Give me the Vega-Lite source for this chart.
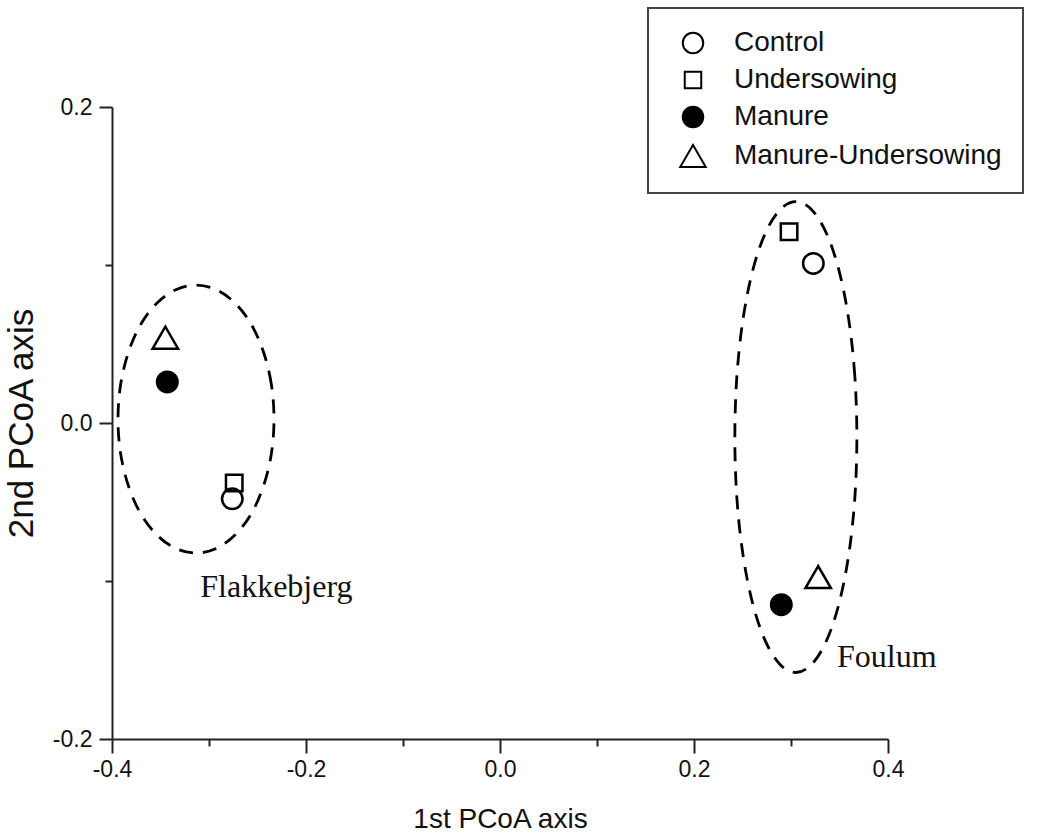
{
  "$schema": "https://vega.github.io/schema/vega-lite/v6.json",
  "width": 776,
  "height": 632,
  "autosize": {"type": "none"},
  "padding": {"left": 112, "top": 107, "right": 150, "bottom": 95},
  "background": "white",
  "config": {
    "view": {"stroke": null},
    "axis": {
      "grid": false,
      "domainColor": "#222",
      "domainWidth": 2,
      "tickColor": "#222",
      "tickWidth": 2,
      "labelFont": "Liberation Sans",
      "labelFontSize": 23,
      "labelColor": "#111",
      "labelFlush": false,
      "labelOverlap": false,
      "titleFont": "Liberation Sans",
      "titleFontWeight": "normal",
      "titleColor": "#111"
    },
    "legend": {
      "strokeColor": "#444",
      "strokeWidth": 2,
      "fillColor": "white",
      "title": null,
      "orient": "none",
      "legendX": 536,
      "legendY": -99,
      "padding": 21,
      "rowPadding": 8,
      "labelFont": "Liberation Sans",
      "labelFontSize": 28,
      "labelColor": "#111",
      "labelLimit": 400,
      "symbolStrokeWidth": 2,
      "symbolOffset": 10,
      "labelOffset": 27
    }
  },
  "datasets": {
    "points": [
      {"site": "Flakkebjerg", "treatment": "Control", "pc1": -0.276, "pc2": -0.048},
      {"site": "Flakkebjerg", "treatment": "Undersowing", "pc1": -0.274, "pc2": -0.038},
      {"site": "Flakkebjerg", "treatment": "Manure", "pc1": -0.343, "pc2": 0.026},
      {"site": "Flakkebjerg", "treatment": "Manure-Undersowing", "pc1": -0.345, "pc2": 0.054},
      {"site": "Foulum", "treatment": "Control", "pc1": 0.323, "pc2": 0.101},
      {"site": "Foulum", "treatment": "Undersowing", "pc1": 0.298, "pc2": 0.121},
      {"site": "Foulum", "treatment": "Manure", "pc1": 0.29, "pc2": -0.115},
      {"site": "Foulum", "treatment": "Manure-Undersowing", "pc1": 0.328, "pc2": -0.0975}
    ],
    "ellipses": [
      {"site": "Flakkebjerg", "i": 0, "pc1": -0.2330, "pc2": 0.0025},
      {"site": "Flakkebjerg", "i": 1, "pc1": -0.2357, "pc2": 0.0244},
      {"site": "Flakkebjerg", "i": 2, "pc1": -0.2438, "pc2": 0.0449},
      {"site": "Flakkebjerg", "i": 3, "pc1": -0.2565, "pc2": 0.0625},
      {"site": "Flakkebjerg", "i": 4, "pc1": -0.2732, "pc2": 0.0759},
      {"site": "Flakkebjerg", "i": 5, "pc1": -0.2926, "pc2": 0.0844},
      {"site": "Flakkebjerg", "i": 6, "pc1": -0.3134, "pc2": 0.0873},
      {"site": "Flakkebjerg", "i": 7, "pc1": -0.3342, "pc2": 0.0844},
      {"site": "Flakkebjerg", "i": 8, "pc1": -0.3536, "pc2": 0.0759},
      {"site": "Flakkebjerg", "i": 9, "pc1": -0.3703, "pc2": 0.0625},
      {"site": "Flakkebjerg", "i": 10, "pc1": -0.3830, "pc2": 0.0449},
      {"site": "Flakkebjerg", "i": 11, "pc1": -0.3911, "pc2": 0.0244},
      {"site": "Flakkebjerg", "i": 12, "pc1": -0.3938, "pc2": 0.0025},
      {"site": "Flakkebjerg", "i": 13, "pc1": -0.3911, "pc2": -0.0194},
      {"site": "Flakkebjerg", "i": 14, "pc1": -0.3830, "pc2": -0.0399},
      {"site": "Flakkebjerg", "i": 15, "pc1": -0.3703, "pc2": -0.0575},
      {"site": "Flakkebjerg", "i": 16, "pc1": -0.3536, "pc2": -0.0709},
      {"site": "Flakkebjerg", "i": 17, "pc1": -0.3342, "pc2": -0.0794},
      {"site": "Flakkebjerg", "i": 18, "pc1": -0.3134, "pc2": -0.0823},
      {"site": "Flakkebjerg", "i": 19, "pc1": -0.2926, "pc2": -0.0794},
      {"site": "Flakkebjerg", "i": 20, "pc1": -0.2732, "pc2": -0.0709},
      {"site": "Flakkebjerg", "i": 21, "pc1": -0.2565, "pc2": -0.0575},
      {"site": "Flakkebjerg", "i": 22, "pc1": -0.2438, "pc2": -0.0399},
      {"site": "Flakkebjerg", "i": 23, "pc1": -0.2357, "pc2": -0.0194},
      {"site": "Foulum", "i": 0, "pc1": 0.3679, "pc2": -0.0089},
      {"site": "Foulum", "i": 1, "pc1": 0.3658, "pc2": 0.0297},
      {"site": "Foulum", "i": 2, "pc1": 0.3595, "pc2": 0.0656},
      {"site": "Foulum", "i": 3, "pc1": 0.3495, "pc2": 0.0965},
      {"site": "Foulum", "i": 4, "pc1": 0.3365, "pc2": 0.1201},
      {"site": "Foulum", "i": 5, "pc1": 0.3213, "pc2": 0.1350},
      {"site": "Foulum", "i": 6, "pc1": 0.3050, "pc2": 0.1401},
      {"site": "Foulum", "i": 7, "pc1": 0.2887, "pc2": 0.1350},
      {"site": "Foulum", "i": 8, "pc1": 0.2735, "pc2": 0.1201},
      {"site": "Foulum", "i": 9, "pc1": 0.2605, "pc2": 0.0965},
      {"site": "Foulum", "i": 10, "pc1": 0.2505, "pc2": 0.0656},
      {"site": "Foulum", "i": 11, "pc1": 0.2442, "pc2": 0.0297},
      {"site": "Foulum", "i": 12, "pc1": 0.2421, "pc2": -0.0089},
      {"site": "Foulum", "i": 13, "pc1": 0.2442, "pc2": -0.0475},
      {"site": "Foulum", "i": 14, "pc1": 0.2505, "pc2": -0.0834},
      {"site": "Foulum", "i": 15, "pc1": 0.2605, "pc2": -0.1143},
      {"site": "Foulum", "i": 16, "pc1": 0.2735, "pc2": -0.1379},
      {"site": "Foulum", "i": 17, "pc1": 0.2887, "pc2": -0.1528},
      {"site": "Foulum", "i": 18, "pc1": 0.3050, "pc2": -0.1579},
      {"site": "Foulum", "i": 19, "pc1": 0.3213, "pc2": -0.1528},
      {"site": "Foulum", "i": 20, "pc1": 0.3365, "pc2": -0.1379},
      {"site": "Foulum", "i": 21, "pc1": 0.3495, "pc2": -0.1143},
      {"site": "Foulum", "i": 22, "pc1": 0.3595, "pc2": -0.0834},
      {"site": "Foulum", "i": 23, "pc1": 0.3658, "pc2": -0.0475}
    ],
    "labels": [
      {"label": "Flakkebjerg", "pc1": -0.309, "pc2": -0.110},
      {"label": "Foulum", "pc1": 0.3474, "pc2": -0.1544}
    ]
  },
  "encoding": {
    "x": {
      "field": "pc1",
      "type": "quantitative",
      "scale": {"domain": [-0.4, 0.4], "nice": false, "zero": false},
      "axis": {
        "title": "1st PCoA axis",
        "titleFontSize": 28,
        "titlePadding": 24,
        "values": [-0.4, -0.3, -0.2, -0.1, 0, 0.1, 0.2, 0.3, 0.4],
        "format": ".1f",
        "labelPadding": 5,
        "labelExpr": "abs(round(datum.value*10)) % 2 == 0 ? replace(datum.label, '\u2212', '-') : ''",
        "tickSize": {"condition": {"test": "abs(round(datum.value*10)) % 2 == 0", "value": 14}, "value": 7}
      }
    },
    "y": {
      "field": "pc2",
      "type": "quantitative",
      "scale": {"domain": [-0.2, 0.2], "nice": false, "zero": false},
      "axis": {
        "title": "2nd PCoA axis",
        "titleFontSize": 35,
        "titlePadding": 13,
        "values": [-0.2, -0.1, 0, 0.1, 0.2],
        "format": ".1f",
        "labelPadding": 7,
        "labelExpr": "abs(round(datum.value*10)) % 2 == 0 ? replace(datum.label, '\u2212', '-') : ''",
        "tickSize": {"condition": {"test": "abs(round(datum.value*10)) % 2 == 0", "value": 13}, "value": 7}
      }
    }
  },
  "layer": [
    {
      "data": {"name": "ellipses"},
      "mark": {"type": "line", "interpolate": "cardinal-closed", "strokeDash": [14, 10], "strokeWidth": 2.8, "color": "black"},
      "encoding": {
        "detail": {"field": "site", "type": "nominal"},
        "order": {"field": "i", "type": "quantitative"}
      }
    },
    {
      "data": {"name": "points"},
      "mark": {"type": "point", "filled": true, "stroke": "black", "strokeWidth": 2.5, "opacity": 1},
      "encoding": {
        "shape": {
          "field": "treatment",
          "type": "nominal",
          "scale": {"domain": ["Control", "Undersowing", "Manure", "Manure-Undersowing"], "range": ["circle", "square", "circle", "triangle-up"]}
        },
        "color": {
          "field": "treatment",
          "type": "nominal",
          "scale": {"domain": ["Control", "Undersowing", "Manure", "Manure-Undersowing"], "range": ["transparent", "transparent", "black", "transparent"]}
        },
        "size": {
          "field": "treatment",
          "type": "nominal",
          "scale": {"type": "ordinal", "domain": ["Control", "Undersowing", "Manure", "Manure-Undersowing"], "range": [420, 272, 420, 650]}
        }
      }
    },
    {
      "data": {"name": "labels"},
      "mark": {"type": "text", "align": "left", "baseline": "alphabetic", "font": "Liberation Serif", "fontSize": 32, "color": "#111"},
      "encoding": {
        "text": {"field": "label", "type": "nominal"}
      }
    }
  ]
}
